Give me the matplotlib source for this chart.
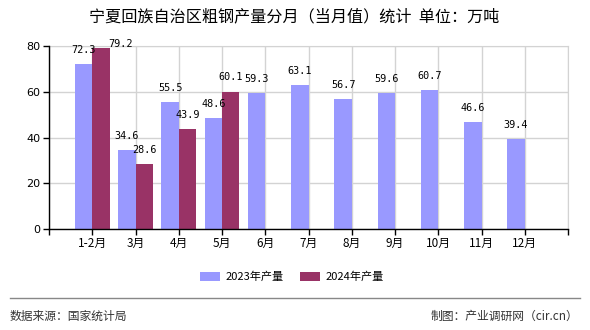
import matplotlib
matplotlib.use("Agg")
import matplotlib.pyplot as plt
from matplotlib.lines import Line2D
import numpy as np

plt.rcParams['font.family'] = ['Noto Sans CJK SC', 'DejaVu Sans']

categories = ["1-2月", "3月", "4月", "5月", "6月", "7月", "8月", "9月", "10月", "11月", "12月"]
values_2023 = [72.3, 34.6, 55.5, 48.6, 59.3, 63.1, 56.7, 59.6, 60.7, 46.6, 39.4]
values_2024 = [79.2, 28.6, 43.9, 60.1]
series_names = ["2023年产量", "2024年产量"]
yticks = [0, 20, 40, 60, 80]

title = "宁夏回族自治区粗钢产量分月（当月值）统计  单位：万吨"
source = "数据来源：国家统计局"
credit = "制图：产业调研网（cir.cn）"

c_blue = "#9999FF"
c_red = "#993366"

fig = plt.figure(figsize=(5.9, 3.3), dpi=100)
ax = fig.add_axes([49/590, 1-229/330, (568-49)/590, (229-46)/330])

x = np.arange(1, len(categories)+1)
w = 0.4
x24 = x[:len(values_2024)]
ax.bar(x - w/2, values_2023, width=w, color=c_blue, label=series_names[0], zorder=3)
ax.bar(x24 + w/2, values_2024, width=w, color=c_red, label=series_names[1], zorder=3)

mono = dict(family='DejaVu Sans Mono', fontsize=7.3, color='black')
for xi, v in zip(x, values_2023):
    ax.annotate(f"{v:.1f}", (xi - w/2, v), xytext=(0, 6.5), textcoords='offset points',
                ha='center', va='bottom', zorder=5, **mono)
for i, (xi, v) in enumerate(zip(x24, values_2024)):
    blue_v = values_2023[i]
    if abs(v - blue_v) < 9 and v > blue_v:
        # avoid overlapping with the neighbouring label: nudge right
        ax.annotate(f"{v:.1f}", (xi + w/2, v), xytext=(14, -1), textcoords='offset points',
                    ha='center', va='bottom', zorder=5, **mono)
    else:
        ax.annotate(f"{v:.1f}", (xi + w/2, v), xytext=(0, 6.5), textcoords='offset points',
                    ha='center', va='bottom', zorder=5, **mono)

ax.set_xlim(0, len(categories)+1)
ax.set_ylim(0, 80)
ax.set_yticks(yticks)
ax.set_yticklabels([str(t) for t in yticks], family='DejaVu Sans', fontsize=8)
ax.set_xticks(np.arange(0, len(categories)+2))
ax.set_xticklabels([""] + categories + [""], fontsize=8.5)
ax.tick_params(axis='x', length=4, width=1, color='black', pad=2)
ax.tick_params(axis='y', length=4, width=1, color='black', pad=2)

ax.grid(True, color='#d3d3d3', lw=1, zorder=0)
ax.set_axisbelow(True)
for s in ['top', 'right']:
    ax.spines[s].set_color('#d3d3d3')
for s in ['left', 'bottom']:
    ax.spines[s].set_color('black')
    ax.spines[s].set_linewidth(1)
    ax.spines[s].set_zorder(6)

fig.text(294/590, 1-17/330, title, ha='center', va='center', fontsize=11.6, color='black')

fig.legend(loc='center', bbox_to_anchor=(292/590, 1-277/330), ncol=2, frameon=False,
           fontsize=8, handlelength=1.8, handleheight=0.9, columnspacing=1.5, handletextpad=0.5)

fig.add_artist(Line2D([10/590, 580/590], [1-298/330, 1-298/330], color='#888888', lw=1))
fig.text(10/590, 1-316/330, source, ha='left', va='center', fontsize=8.5, color='#333333')
fig.text(578/590, 1-316/330, credit, ha='right', va='center', fontsize=8.5, color='#333333')

fig.savefig("out.png", dpi=100)
